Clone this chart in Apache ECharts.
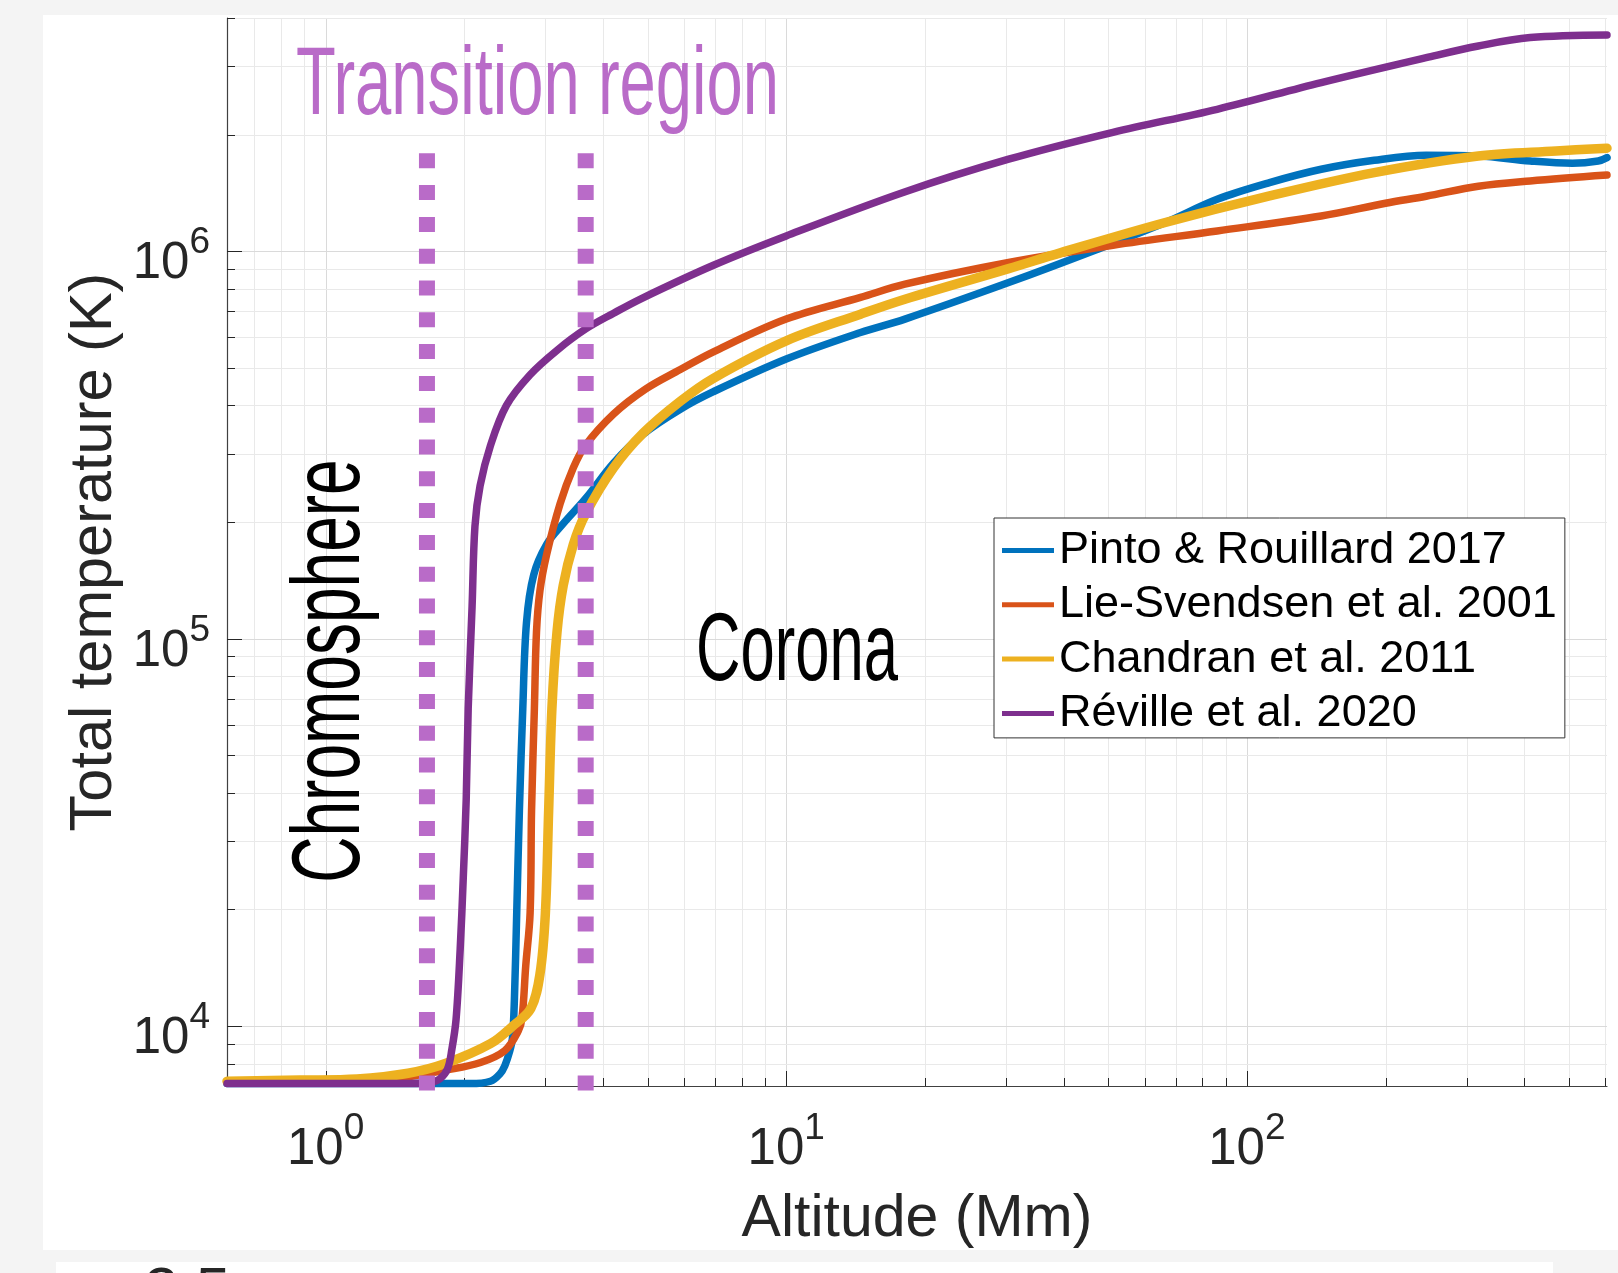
<!DOCTYPE html>
<html>
<head>
<meta charset="utf-8">
<title>Total temperature vs altitude</title>
<script src="https://cdn.jsdelivr.net/npm/echarts/dist/echarts.min.js"></script>
<style>
  html, body { margin: 0; padding: 0; background: #f4f4f4; }
  #chart { width: 1618px; height: 1273px; }
</style>
</head>
<body>
<div id="chart"></div>
<script>
// Temperature profiles: altitude (Mm) and total temperature (K)
const pintoAlt = [0.611, 1.5, 2.06, 2.28, 2.39, 2.45, 2.51, 2.545, 2.57, 2.60, 2.635, 2.68, 2.73, 2.83, 3.02, 3.28, 3.67, 4.22, 4.89, 5.89, 6.95, 10.0, 14.5, 18.1, 30.4, 46.2, 66.5, 86.2, 112, 145, 189, 245, 318, 412, 509, 579, 605];
const pintoTemp = [7100, 7100, 7100, 7200, 7520, 7900, 8600, 9300, 11700, 19600, 36000, 66000, 110000, 146000, 175000, 198000, 230000, 284000, 337000, 391000, 434000, 527000, 617000, 668000, 830000, 1000000, 1186000, 1362000, 1504000, 1628000, 1717000, 1769000, 1762000, 1710000, 1687000, 1710000, 1745000];

const lieAlt = [0.611, 1.02, 1.45, 1.83, 2.17, 2.45, 2.62, 2.67, 2.72, 2.78, 2.80, 2.84, 2.87, 2.92, 3.02, 3.23, 3.45, 3.67, 4.22, 4.94, 5.89, 6.95, 10.0, 14.5, 18.1, 30.4, 51.2, 86.2, 145, 200, 245, 318, 412, 605];
const lieTemp = [7170, 7200, 7350, 7700, 8050, 8640, 9700, 10500, 14300, 19600, 36000, 66000, 104000, 133000, 165000, 223000, 276000, 316000, 380000, 440000, 495000, 550000, 668000, 760000, 822000, 935000, 1036000, 1128000, 1233000, 1330000, 1387000, 1472000, 1519000, 1573000];

const chandranAlt = [0.611, 0.88, 1.17, 1.51, 1.82, 2.28, 2.55, 2.79, 2.92, 3.00, 3.05, 3.10, 3.18, 3.28, 3.45, 3.67, 4.22, 4.89, 5.89, 6.95, 10.0, 14.5, 18.1, 30.4, 39.5, 66.5, 112, 189, 318, 469, 605];
const chandranTemp = [7200, 7250, 7300, 7550, 8000, 9000, 10000, 11100, 13600, 19500, 36000, 66000, 104000, 137000, 175000, 210000, 276000, 339000, 410000, 470000, 587000, 688000, 752000, 902000, 992000, 1186000, 1389000, 1596000, 1762000, 1815000, 1845000];

const revilleAlt = [0.611, 1.45, 1.69, 1.77, 1.84, 1.88, 1.92, 1.96, 1.99, 2.02, 2.04, 2.08, 2.11, 2.165, 2.28, 2.47, 2.78, 3.18, 3.67, 4.22, 4.85, 6.95, 10.0, 18.0, 30.4, 51.2, 86.2, 145, 245, 318, 412, 605];
const revilleTemp = [7100, 7100, 7150, 7300, 7750, 8700, 10400, 15800, 24000, 38500, 66000, 121000, 195000, 248000, 315000, 400000, 480000, 555000, 630000, 692000, 755000, 920000, 1095000, 1420000, 1728000, 2028000, 2325000, 2725000, 3160000, 3387000, 3560000, 3616000];

const seriesNames = ['Pinto & Rouillard 2017', 'Lie-Svendsen et al. 2001', 'Chandran et al. 2011', 'Réville et al. 2020'];
const seriesAlts = [pintoAlt, lieAlt, chandranAlt, revilleAlt];
const seriesTemps = [pintoTemp, lieTemp, chandranTemp, revilleTemp];

// Axis ranges and labelled decades
const altRange = [0.611, 605];
const tempRange = [7000, 4000000];
const xTickExponents = [0, 1, 2];
const yTickExponents = [4, 5, 6];

// Region boundaries (Mm): chromosphere | transition region | corona
const regionBounds = [1.66, 3.67];
const regionLabels = ['Chromosphere', 'Transition region', 'Corona'];

// Styling
const palette = ['#0072BD', '#D95319', '#EDB120', '#7E2F8E'];
const lineWidths = [7.5, 7.5, 9.5, 7.5];
const FONT = '"Liberation Sans", Arial, Helvetica, sans-serif';
const INK = '#262626';
const REGION_COLOR = '#b96bc8';

// Grid positions for every 1..9 x 10^k inside a range (log decades)
function decadeSteps(range) {
  const out = [];
  const e0 = Math.floor(Math.log10(range[0]));
  const e1 = Math.ceil(Math.log10(range[1]));
  for (let e = e0; e <= e1; e++) {
    for (let m = 1; m <= 9; m++) {
      const v = +(m * Math.pow(10, e)).toPrecision(6);
      if (v > range[0] * 1.0001 && v < range[1] * 1.0001) out.push({ v: v, major: m === 1 ? 1 : 0 });
    }
  }
  return out;
}

const gridItems = [];
decadeSteps(altRange).forEach(function (g) { gridItems.push([g.v, tempRange[0], 0, g.major]); });
decadeSteps(tempRange).forEach(function (g) { gridItems.push([altRange[0], g.v, 1, g.major]); });

function powLabel(v) {
  const lg = Math.log10(v);
  const e = Math.round(lg);
  if (Math.abs(lg - e) > 1e-6) return '';
  return '{b|10}{s|' + e + '}';
}
function powRich(baseTop, supBottom) {
  return {
    b: { fontSize: 51, fontFamily: FONT, color: INK, padding: [baseTop, 0, 0, 0] },
    s: { fontSize: 37, fontFamily: FONT, color: INK, padding: [0, 0, supBottom, 0] }
  };
}

const chart = echarts.init(document.getElementById('chart'), null, { renderer: 'canvas' });

const lineSeries = seriesNames.map(function (name, i) {
  return {
    type: 'line',
    name: name,
    data: seriesAlts[i].map(function (a, k) { return [a, seriesTemps[i][k]]; }),
    showSymbol: false,
    symbol: 'none',
    smooth: 0.35,
    clip: false,
    z: 3,
    silent: true,
    lineStyle: { color: palette[i], width: lineWidths[i], cap: 'round', join: 'round' },
    itemStyle: { color: palette[i] },
    emphasis: { disabled: true }
  };
});

// Grid lines and inward ticks, placed through the axis scales
const gridSeries = {
  type: 'custom',
  name: 'grid',
  silent: true,
  z: 1,
  data: gridItems,
  encode: { x: 0, y: 1 },
  renderItem: function (params, api) {
    const cs = params.coordSys;
    const vertical = api.value(2) === 0;
    const major = api.value(3) === 1;
    const p = api.coord([api.value(0), api.value(1)]);
    const len = major ? 15 : 8;
    const gridStyle = { stroke: major ? '#dadada' : '#e9e9e9', lineWidth: 1 };
    const tickStyle = { stroke: INK, lineWidth: 1 };
    if (vertical) {
      const x = Math.round(p[0]) + 0.5;
      const yb = cs.y + cs.height;
      return { type: 'group', children: [
        { type: 'line', shape: { x1: x, y1: cs.y, x2: x, y2: yb }, style: gridStyle },
        { type: 'line', shape: { x1: x, y1: yb, x2: x, y2: yb - len }, style: tickStyle }
      ] };
    }
    const y = Math.round(p[1]) + 0.5;
    return { type: 'group', children: [
      { type: 'line', shape: { x1: cs.x, y1: y, x2: cs.x + cs.width, y2: y }, style: gridStyle },
      { type: 'line', shape: { x1: cs.x, y1: y, x2: cs.x + len, y2: y }, style: tickStyle }
    ] };
  }
};

chart.setOption({
  animation: false,
  backgroundColor: '#f4f4f4',
  grid: { left: 227, top: 18, width: 1380, height: 1068, containLabel: false, outerBoundsMode: 'none' },
  xAxis: {
    type: 'log',
    min: altRange[0],
    max: altRange[1],
    name: 'Altitude (Mm)',
    nameLocation: 'middle',
    nameGap: 104,
    nameMoveOverlap: false,
    nameTextStyle: { fontSize: 59, fontFamily: FONT, color: INK },
    axisLine: { show: true, onZero: false, lineStyle: { color: '#404040', width: 1.2 } },
    axisTick: { show: false },
    splitLine: { show: false },
    minorTick: { show: false },
    minorSplitLine: { show: false },
    axisLabel: {
      showMinLabel: false, showMaxLabel: false,
      margin: 20,
      formatter: function (v) {
        const s = powLabel(v);
        return xTickExponents.indexOf(Math.round(Math.log10(v))) >= 0 ? s : '';
      },
      rich: powRich(18, 24)
    }
  },
  yAxis: {
    type: 'log',
    min: tempRange[0],
    max: tempRange[1],
    name: 'Total temperature (K)',
    nameLocation: 'middle',
    nameGap: 102,
    nameRotate: 90,
    nameMoveOverlap: false,
    nameTextStyle: { fontSize: 59.5, fontFamily: FONT, color: INK },
    axisLine: { show: true, onZero: false, lineStyle: { color: '#404040', width: 1.2 } },
    axisTick: { show: false },
    splitLine: { show: false },
    minorTick: { show: false },
    minorSplitLine: { show: false },
    axisLabel: {
      showMinLabel: false, showMaxLabel: false,
      margin: 17,
      formatter: function (v) {
        const s = powLabel(v);
        return yTickExponents.indexOf(Math.round(Math.log10(v))) >= 0 ? s : '';
      },
      rich: powRich(26, 16)
    }
  },
  legend: {
    show: true,
    orient: 'vertical',
    left: 994,
    top: 518,
    data: seriesNames,
    icon: 'rect',
    itemWidth: 52,
    itemHeight: 5,
    itemGap: 9.3,
    padding: [10, 8, 2, 8],
    backgroundColor: '#ffffff',
    borderColor: '#333333',
    borderWidth: 1,
    borderRadius: 0,
    selectedMode: false,
    textStyle: { fontSize: 45, fontFamily: FONT, color: '#000000' }
  },
  series: [gridSeries].concat(lineSeries)
});

// Region annotations: boundary lines and labels
const pxTop = chart.convertToPixel({ gridIndex: 0 }, [regionBounds[0], 1790000]);
const pxBottom = chart.convertToPixel({ gridIndex: 0 }, [regionBounds[0], tempRange[0]]);
const boundaryLines = regionBounds.map(function (b) {
  const x = chart.convertToPixel({ xAxisIndex: 0 }, b);
  return {
    type: 'line',
    z: 100,
    silent: true,
    shape: { x1: x, y1: pxTop[1], x2: x, y2: pxBottom[1] + 6 },
    style: { stroke: REGION_COLOR, lineWidth: 16, lineDash: [15, 16.8], lineCap: 'butt' }
  };
});

chart.setOption({
  graphic: {
    elements: [
      // figure panels
      { type: 'rect', z: -10, silent: true, shape: { x: 43, y: 15, width: 1575, height: 1235 }, style: { fill: '#ffffff' } },
      { type: 'rect', z: -10, silent: true, shape: { x: 56, y: 1262, width: 1497, height: 20 }, style: { fill: '#ffffff' } },
      { type: 'text', z: -5, silent: true, x: 144, y: 1262, style: { text: '2.5', font: '62px ' + FONT, fill: INK, align: 'left', verticalAlign: 'top' } }
    ].concat(boundaryLines).concat([
      { type: 'text', z: 100, silent: true, x: 332, y: 671, rotation: Math.PI / 2, scaleX: 0.66,
        style: { text: regionLabels[0], font: '97px ' + FONT, fill: '#000000', align: 'center', verticalAlign: 'middle' } },
      { type: 'text', z: 100, silent: true, x: 296, y: 87, scaleX: 0.672,
        style: { text: regionLabels[1], font: '97px ' + FONT, fill: REGION_COLOR, align: 'left', verticalAlign: 'middle' } },
      { type: 'text', z: 100, silent: true, x: 696, y: 653, scaleX: 0.635,
        style: { text: regionLabels[2], font: '97px ' + FONT, fill: '#000000', align: 'left', verticalAlign: 'middle' } }
    ])
  }
});
</script>
</body>
</html>
